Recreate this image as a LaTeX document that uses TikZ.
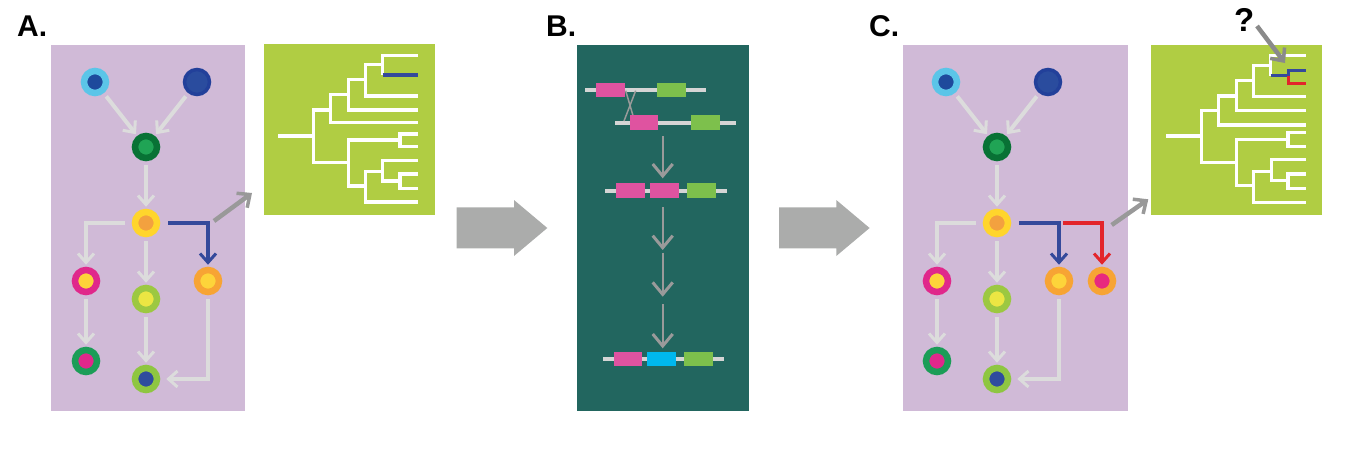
\documentclass[tikz,border=0pt]{standalone}
\usepackage{fontspec}
\setmainfont{Liberation Sans}
\usetikzlibrary{arrows.meta}
\tikzstyle{pixelGrid} = [x = 1pt, y = -1pt]
\definecolor{panelLilac}{HTML}{D0BAD7}
\definecolor{treeGreen}{HTML}{B0CD43}
\definecolor{panelTeal}{HTML}{22665F}
\definecolor{arrowGrey}{HTML}{DCDCDC}
\definecolor{pointerGrey}{HTML}{999999}
\definecolor{bigGrey}{HTML}{ABACAB}
\definecolor{flowGrey}{HTML}{9A9A9A}
\definecolor{geneGrey}{HTML}{D5D5D5}
\definecolor{branchBlue}{HTML}{34499B}
\definecolor{branchRed}{HTML}{E3252B}
\definecolor{genePink}{HTML}{DF53A0}
\definecolor{geneGreen}{HTML}{7DC04C}
\definecolor{geneCyan}{HTML}{00B8EE}
\definecolor{skyBlue}{HTML}{5BC5E8}
\definecolor{deepBlue}{HTML}{1E4A9C}
\definecolor{navyOuter}{HTML}{22409A}
\definecolor{navyInner}{HTML}{2A4C9E}
\definecolor{darkGreen}{HTML}{087235}
\definecolor{midGreen}{HTML}{20A455}
\definecolor{sunYellow}{HTML}{FFD52C}
\definecolor{softOrange}{HTML}{F3A13F}
\definecolor{hotPink}{HTML}{E0288B}
\definecolor{paleYellow}{HTML}{FDD43A}
\definecolor{limeGreen}{HTML}{9CC841}
\definecolor{lemon}{HTML}{EBE643}
\definecolor{deepOrange}{HTML}{F7A434}
\definecolor{leafGreen}{HTML}{1B9D57}
\definecolor{cherryPink}{HTML}{E8297E}
\definecolor{limeGreenB}{HTML}{8EC641}
\definecolor{bottomBlue}{HTML}{2F4C9E}
\tikzstyle{cellStyle} = [circle, minimum size = 22pt, inner sep = 0pt, line width = 6.5pt]
\tikzstyle{lightArrow} = [color=arrowGrey, line width = 4pt, -{Straight Barb[length=9pt, width=16pt, line width=3pt]}, shorten <= 4pt, shorten >= 2pt]
\tikzstyle{blueArrow} = [lightArrow, color=branchBlue]
\tikzstyle{redArrow} = [lightArrow, color=branchRed]
\tikzstyle{pointerArrow} = [color=pointerGrey, line width = 4.5pt, -{Straight Barb[length=10pt, width=18pt, line width=3.5pt]}]
\tikzstyle{flowArrow} = [color=flowGrey, line width = 2pt, -{Straight Barb[length=12pt, width=20pt, line width=3pt]}]
\tikzstyle{treeLine} = [color=white, line width = 3.3pt]
\tikzstyle{geneLineStyle} = [color=geneGrey, line width = 4pt]
\tikzstyle{crossLine} = [color=flowGrey, line width = 1.5pt]
\tikzstyle{bigArrowStyle} = [fill=bigGrey]
\tikzstyle{panelLabel} = [font=\fontsize{30}{30}\selectfont\bfseries, inner sep = 0pt, anchor = base west]
\newcommand{\cellNode}[5]{\node [cellStyle, draw=#4, fill=#5] (#1) at (#2,#3) {};}
\newcommand{\navyNode}[3]{\node [cellStyle, line width = 3.5pt, minimum size = 25pt, draw=navyOuter, fill=navyInner] (#1) at (#2,#3) {};}
\newcommand{\geneLine}[3]{\draw [geneLineStyle] (#1,#2) -- (#3,#2);}
\newcommand{\geneBox}[4]{\fill [#4] (#1,#2 - 7.35) rectangle (#3,#2 + 7.35);}
\newcommand{\bigArrow}[1]{\fill [bigArrowStyle] (#1,207.3) -- ++(57.3,0) -- ++(0,-7.3) -- ++(33.3,28) -- ++(-33.3,28) -- ++(0,-7.7) -- ++(-57.3,0) -- cycle;}

\begin{document}
\begin{tikzpicture}[pixelGrid]
\useasboundingbox (0,0) rectangle (1366,448);
% panels
\fill [panelLilac] (51,45) rectangle (245,411);
\fill [treeGreen] (264,44) rectangle (435,215);
\fill [panelTeal] (577,45) rectangle (749,411);
\fill [panelLilac] (903,45) rectangle (1128,411);
\fill [treeGreen] (1151,45) rectangle (1322,215);
\node [panelLabel] (labelA) at (17,36) {A.};
\node [panelLabel] (labelB) at (546,36) {B.};
\node [panelLabel] (labelC) at (869,36) {C.};
\node [panelLabel, font=\fontsize{33}{33}\selectfont\bfseries] (question) at (1234,31) {?};
\bigArrow{456.7}
\bigArrow{779}
% panel A
\cellNode{topLeftA}{95}{82}{skyBlue}{deepBlue}
\navyNode{topRightA}{197}{82}
\cellNode{greenA}{146}{147}{darkGreen}{midGreen}
\cellNode{yellowA}{146}{223}{sunYellow}{softOrange}
\cellNode{magentaA}{86}{281}{hotPink}{paleYellow}
\cellNode{limeA}{146}{299}{limeGreen}{lemon}
\cellNode{orangeA}{208}{281}{deepOrange}{paleYellow}
\cellNode{greenBottomA}{86}{361}{leafGreen}{hotPink}
\cellNode{bottomA}{146}{379}{limeGreenB}{bottomBlue}
\draw [lightArrow] (topLeftA) -- (greenA);
\draw [lightArrow] (topRightA) -- (greenA);
\draw [lightArrow] (greenA) -- (yellowA);
\draw [lightArrow, shorten <= 7pt] (yellowA.west) -| (magentaA.north);
\draw [lightArrow] (yellowA) -- (limeA);
\draw [blueArrow, shorten <= 8pt] (yellowA.east) -| (orangeA.north);
\draw [lightArrow] (magentaA) -- (greenBottomA);
\draw [lightArrow] (limeA) -- (bottomA);
\draw [lightArrow, shorten >= 6pt] (orangeA.south) |- (bottomA.east);
\coordinate (pointerStartA) at (214,221);
\coordinate (pointerEndA) at (252,193);
\draw [pointerArrow] (pointerStartA) -- (pointerEndA);
% tree A
\draw [treeLine] (278.3,136) -- (313.3,136);
\draw [treeLine] (330.7,110) -| (313.3,162.7) -- (348.3,162.7);
\draw [treeLine] (348.3,94.3) -| (330.7,122.7) -- (417.7,122.7);
\draw [treeLine] (365.7,79.3) -| (348.3,110) -- (417.7,110);
\draw [treeLine] (382.7,64.3) -| (365.7,96) -- (417.7,96);
\draw [treeLine] (417.7,55.7) -| (382.7,75);
\draw [color=branchBlue, line width = 4.3pt] (382.7,75) -- (417.7,75);
\draw [treeLine] (400,140) -| (348.3,186) -- (365.7,186);
\draw [treeLine] (417.7,134) -| (400,146.7) -- (417.7,146.7);
\draw [treeLine] (382.7,171.7) -| (365.7,202) -- (417.7,202);
\draw [treeLine] (417.7,160.7) -| (382.7,181) -- (400,181);
\draw [treeLine] (417.7,174) -| (400,188.7) -- (417.7,188.7);
% panel B
\geneLine{585}{90}{706}
\geneLine{615}{122.5}{736}
\geneLine{605}{190.5}{727}
\geneLine{603}{359}{724}
\draw [crossLine] (625.7,90.7) -- (634.3,120);
\draw [crossLine] (635.7,90.7) -- (624,121);
\geneBox{596}{90}{625}{genePink}
\geneBox{657}{90}{686}{geneGreen}
\geneBox{630}{122.5}{658}{genePink}
\geneBox{691}{122.5}{720}{geneGreen}
\geneBox{616}{190.5}{645}{genePink}
\geneBox{650}{190.5}{679}{genePink}
\geneBox{687}{190.5}{716}{geneGreen}
\geneBox{614}{359}{642}{genePink}
\geneBox{647}{359}{676}{geneCyan}
\geneBox{684}{359}{713}{geneGreen}
\foreach \i/\top/\bottom in {1/136/178.3, 2/207/250, 3/252.7/296.7, 4/304/348.3} {
  \coordinate (flowStart\i) at (662.7,\top);
  \coordinate (flowEnd\i) at (662.7,\bottom);
  \draw [flowArrow] (flowStart\i) -- (flowEnd\i);
}
% panel C
\cellNode{topLeftC}{946}{82}{skyBlue}{deepBlue}
\navyNode{topRightC}{1048}{82}
\cellNode{greenC}{997}{147}{darkGreen}{midGreen}
\cellNode{yellowC}{997}{223}{sunYellow}{softOrange}
\cellNode{magentaC}{937}{281}{hotPink}{paleYellow}
\cellNode{limeC}{997}{299}{limeGreen}{lemon}
\cellNode{orangeC}{1059}{281}{deepOrange}{paleYellow}
\cellNode{pinkC}{1102}{281}{deepOrange}{cherryPink}
\cellNode{greenBottomC}{937}{361}{leafGreen}{hotPink}
\cellNode{bottomC}{997}{379}{limeGreenB}{bottomBlue}
\draw [lightArrow] (topLeftC) -- (greenC);
\draw [lightArrow] (topRightC) -- (greenC);
\draw [lightArrow] (greenC) -- (yellowC);
\draw [lightArrow, shorten <= 7pt] (yellowC.west) -| (magentaC.north);
\draw [lightArrow] (yellowC) -- (limeC);
\draw [blueArrow, shorten <= 8pt] (yellowC.east) -| (orangeC.north);
\draw [redArrow] (orangeC |- yellowC) -| (pinkC.north);
\draw [lightArrow] (magentaC) -- (greenBottomC);
\draw [lightArrow] (limeC) -- (bottomC);
\draw [lightArrow, shorten >= 6pt] (orangeC.south) |- (bottomC.east);
\coordinate (pointerStartC) at (1111.7,225);
\coordinate (pointerEndC) at (1148.3,199.3);
\draw [pointerArrow] (pointerStartC) -- (pointerEndC);
% tree C
\begin{scope}[xshift=888pt]
\draw [treeLine] (278.3,136) -- (313.3,136);
\draw [treeLine] (330.7,110.7) -| (313.3,162.7) -- (348.3,162.7);
\draw [treeLine] (348.3,96) -| (330.7,125) -- (417.7,125);
\draw [treeLine] (365.7,80.7) -| (348.3,110.7) -- (417.7,110.7);
\draw [treeLine] (382.7,65.7) -| (365.7,96.7) -- (417.7,96.7);
\draw [treeLine] (417.7,55.7) -| (382.7,75.7);
\draw [color=branchBlue, line width = 3pt] (382.7,75.7) -| (400,70) -- (417.7,70);
\draw [color=branchRed, line width = 3pt] (400,75.7) |- (417.7,83.3);
\draw [treeLine] (400,139.3) -| (348.3,185.7) -- (365.7,185.7);
\draw [treeLine] (417.7,132.7) -| (400,146.7) -- (417.7,146.7);
\draw [treeLine] (383.3,171.7) -| (365.7,202.7) -- (417.7,202.7);
\draw [treeLine] (417.7,159.3) -| (383.3,180.7) -- (400,180.7);
\draw [treeLine] (417.7,174) -| (400,188.7) -- (417.7,188.7);
\end{scope}
\coordinate (questionStart) at (1257,26);
\coordinate (questionEnd) at (1285,63);
\draw [pointerArrow, color=pointerGrey!90!black] (questionStart) -- (questionEnd);
\end{tikzpicture}
\end{document}
